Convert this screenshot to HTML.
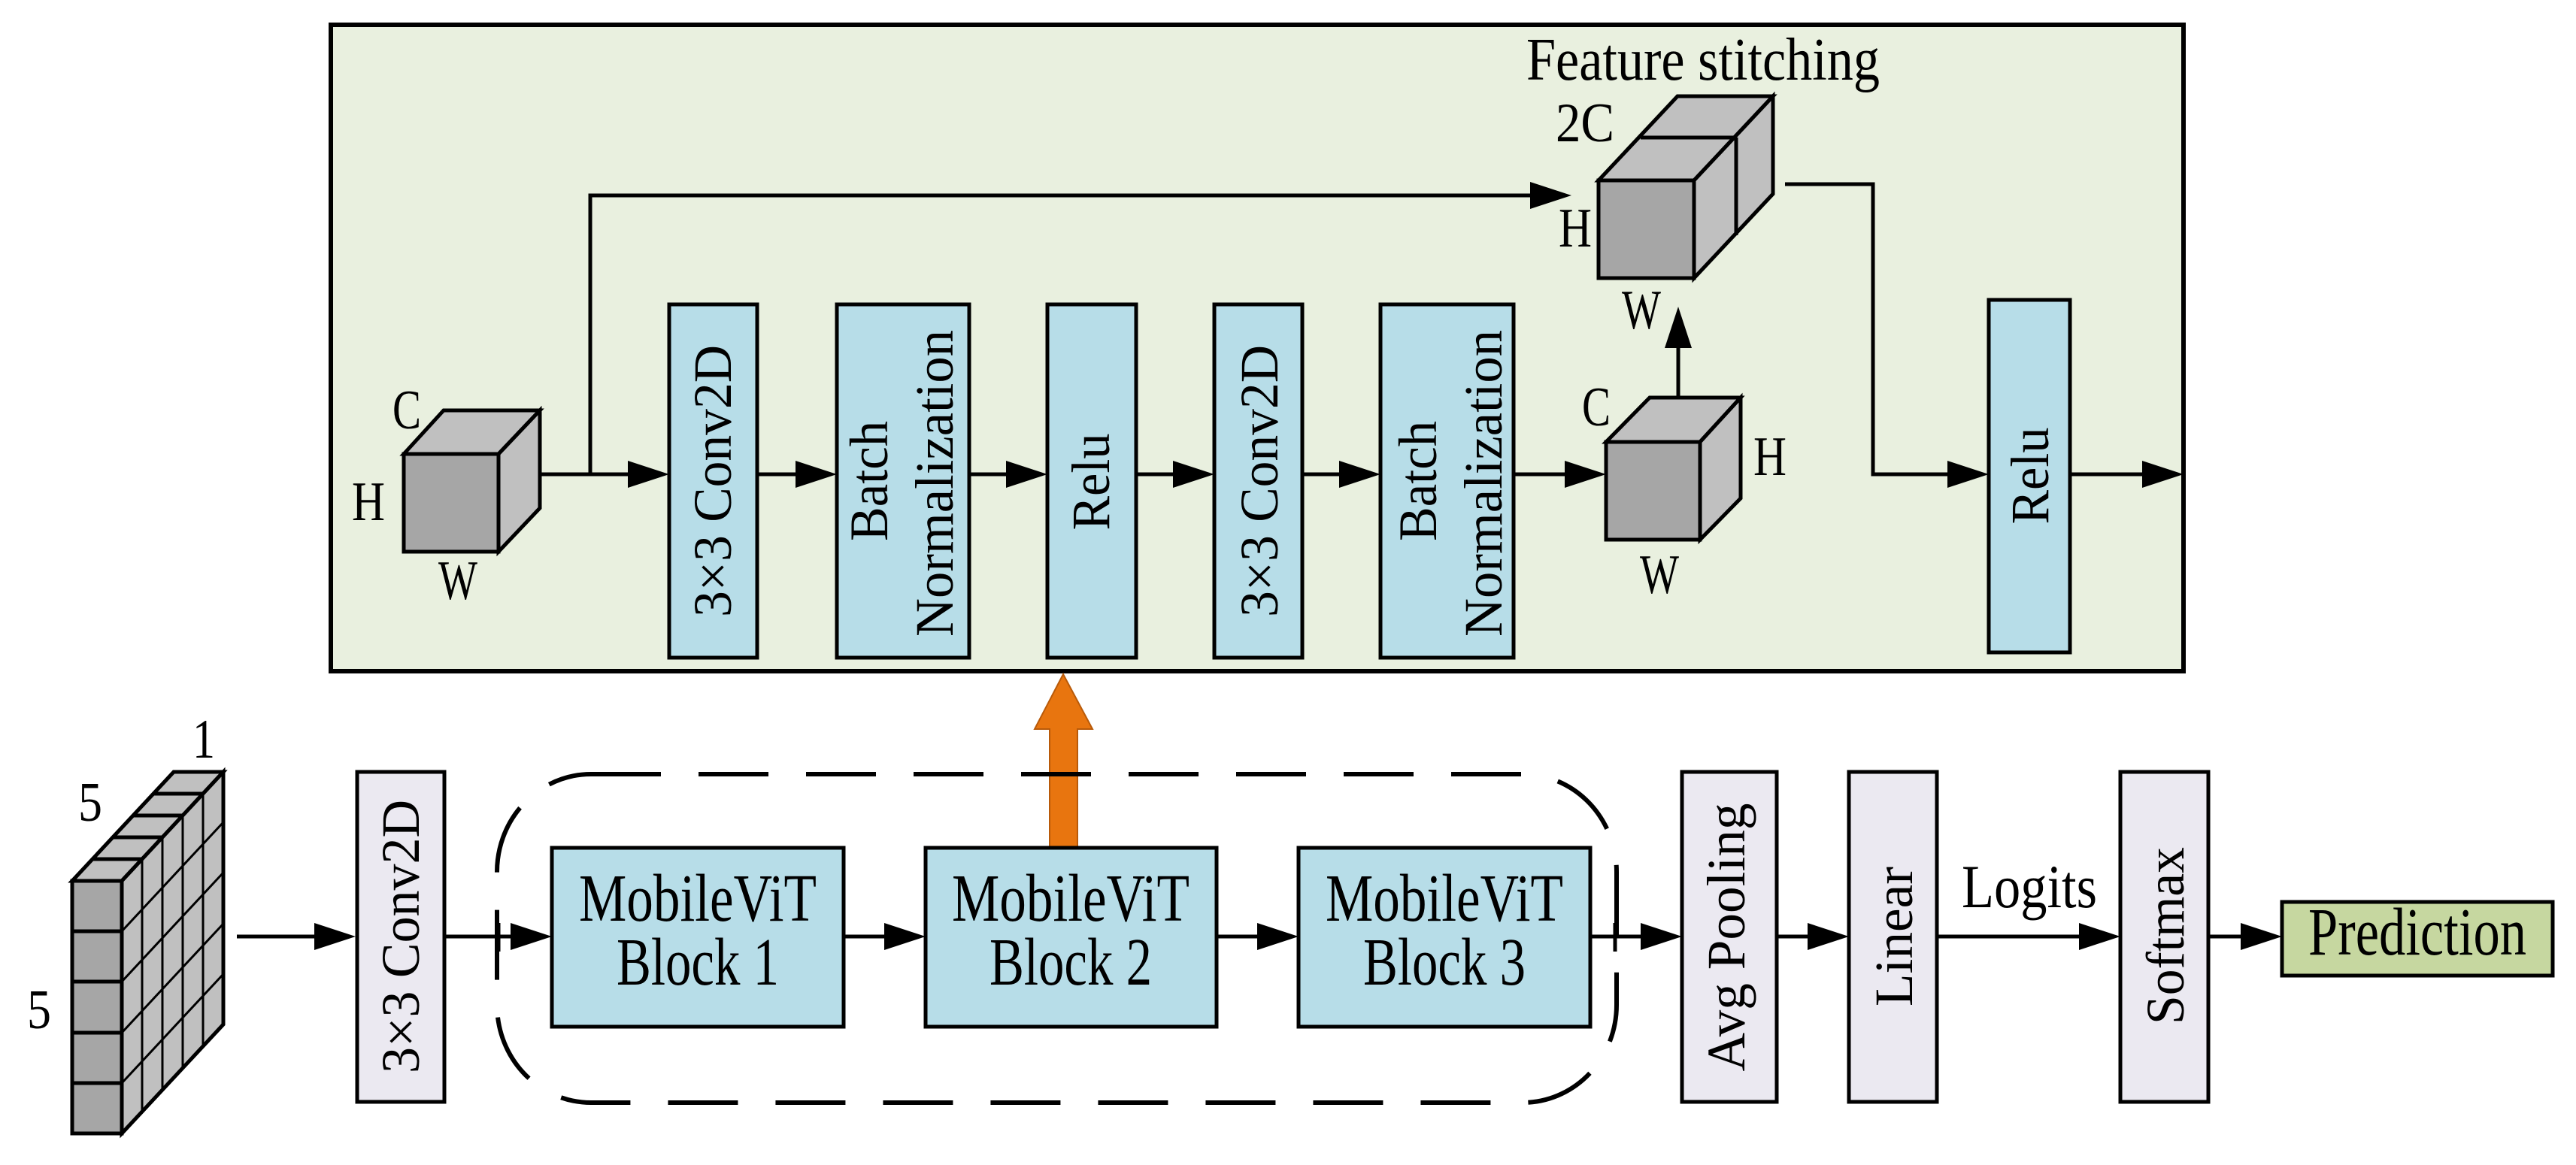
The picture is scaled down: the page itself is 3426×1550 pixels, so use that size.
<!DOCTYPE html>
<html><head><meta charset="utf-8"><style>
html,body{margin:0;padding:0;background:#fff;}
svg{display:block;}
text{font-family:"Liberation Serif",serif;fill:#000;}
</style></head><body>
<svg width="3426" height="1550" viewBox="0 0 3426 1550" xmlns="http://www.w3.org/2000/svg">
<rect x="440" y="33" width="2464" height="860" fill="#e9f0df" stroke="#000" stroke-width="6"/>
<text x="2265" y="106" font-size="80" text-anchor="middle" textLength="470" lengthAdjust="spacingAndGlyphs">Feature stitching</text>

<g stroke="#000" stroke-width="5">
<polygon points="537,604 590,546 718,546 663,604" fill="#c0c0c0"/>
<polygon points="663,604 718,546 718,676 663,734" fill="#c0c0c0"/>
<rect x="537" y="604" width="126" height="130" fill="#a6a6a6"/>
</g>
<g font-size="74" text-anchor="middle">
<text x="541" y="570" textLength="38" lengthAdjust="spacingAndGlyphs">C</text>
<text x="490" y="692" textLength="44" lengthAdjust="spacingAndGlyphs">H</text>
<text x="609" y="797" textLength="52" lengthAdjust="spacingAndGlyphs">W</text>
</g>

<g stroke="#000" stroke-width="5" fill="none">
<polyline points="718,631 840,631"/>
<polyline points="785,631 785,260 2040,260"/>
<line x1="1007" y1="631" x2="1060" y2="631"/>
<line x1="1289" y1="631" x2="1340" y2="631"/>
<line x1="1511" y1="631" x2="1562" y2="631"/>
<line x1="1732" y1="631" x2="1783" y2="631"/>
<line x1="2013" y1="631" x2="2083" y2="631"/>
<polyline points="2374,245 2491,245 2491,631 2592,631"/>
<line x1="2753" y1="631" x2="2852" y2="631"/>
<line x1="2232" y1="529" x2="2232" y2="460"/>
</g>
<g fill="#000">
<polygon points="835,613 890,631 835,649"/>
<polygon points="2035,242 2090,260 2035,278"/>
<polygon points="1058,613 1113,631 1058,649"/>
<polygon points="1338,613 1393,631 1338,649"/>
<polygon points="1560,613 1615,631 1560,649"/>
<polygon points="1781,613 1836,631 1781,649"/>
<polygon points="2081,613 2136,631 2081,649"/>
<polygon points="2590,613 2645,631 2590,649"/>
<polygon points="2849,613 2904,631 2849,649"/>
<polygon points="2214,463 2232,408 2250,463"/>
</g>

<g fill="#b7dde8" stroke="#000" stroke-width="5">
<rect x="890" y="405" width="117" height="470"/>
<rect x="1113" y="405" width="176" height="470"/>
<rect x="1393" y="405" width="118" height="470"/>
<rect x="1615" y="405" width="117" height="470"/>
<rect x="1836" y="405" width="177" height="470"/>
<rect x="2645" y="399" width="108" height="469"/>
</g>
<g font-size="72">
<text transform="translate(972,640) rotate(-90)" text-anchor="middle" textLength="362" lengthAdjust="spacingAndGlyphs">3×3 Conv2D</text>
<text transform="translate(1180,640) rotate(-90)" text-anchor="middle" textLength="160" lengthAdjust="spacingAndGlyphs">Batch</text>
<text transform="translate(1267,643) rotate(-90)" text-anchor="middle" textLength="408" lengthAdjust="spacingAndGlyphs">Normalization</text>
<text transform="translate(1475,641) rotate(-90)" text-anchor="middle" textLength="129" lengthAdjust="spacingAndGlyphs">Relu</text>
<text transform="translate(1699,640) rotate(-90)" text-anchor="middle" textLength="362" lengthAdjust="spacingAndGlyphs">3×3 Conv2D</text>
<text transform="translate(1910,640) rotate(-90)" text-anchor="middle" textLength="160" lengthAdjust="spacingAndGlyphs">Batch</text>
<text transform="translate(1997,643) rotate(-90)" text-anchor="middle" textLength="408" lengthAdjust="spacingAndGlyphs">Normalization</text>
<text transform="translate(2724,633) rotate(-90)" text-anchor="middle" textLength="129" lengthAdjust="spacingAndGlyphs">Relu</text>
</g>

<g stroke="#000" stroke-width="5">
<polygon points="2136,588 2194,529 2315,529 2261,588" fill="#c0c0c0"/>
<polygon points="2261,588 2315,529 2315,663 2261,718" fill="#c0c0c0"/>
<rect x="2136" y="588" width="125" height="130" fill="#a6a6a6"/>
</g>
<g font-size="74" text-anchor="middle">
<text x="2123" y="566" textLength="38" lengthAdjust="spacingAndGlyphs">C</text>
<text x="2354" y="632" textLength="44" lengthAdjust="spacingAndGlyphs">H</text>
<text x="2207" y="789" textLength="52" lengthAdjust="spacingAndGlyphs">W</text>
</g>

<g stroke="#000" stroke-width="5">
<polygon points="2126,240 2231,128 2358,128 2253,240" fill="#c0c0c0"/>
<polygon points="2253,240 2358,128 2358,258 2253,370" fill="#c0c0c0"/>
<line x1="2182" y1="183" x2="2309" y2="183"/>
<line x1="2309" y1="183" x2="2309" y2="313"/>
<rect x="2126" y="240" width="127" height="130" fill="#a6a6a6"/>
</g>
<g font-size="74" text-anchor="middle">
<text x="2108" y="188" textLength="78" lengthAdjust="spacingAndGlyphs">2C</text>
<text x="2095" y="328" textLength="44" lengthAdjust="spacingAndGlyphs">H</text>
<text x="2183" y="437" textLength="52" lengthAdjust="spacingAndGlyphs">W</text>
</g>

<polygon points="1396,1127 1396,970 1376,970 1414,897 1453,970 1433,970 1433,1127" fill="#e8750f" stroke="#b85a0a" stroke-width="2"/>

<g stroke="#000" stroke-width="5" fill="#c0c0c0">
<polygon points="96,1172 231,1027 297,1027 162,1172"/>
<polygon points="162,1172 297,1027 297,1363 162,1508"/>
<rect x="96" y="1172" width="66" height="336" fill="#a6a6a6"/>
</g>
<g stroke="#000" stroke-width="5">
<line x1="96" y1="1239" x2="162" y2="1239"/>
<line x1="96" y1="1306" x2="162" y2="1306"/>
<line x1="96" y1="1374" x2="162" y2="1374"/>
<line x1="96" y1="1441" x2="162" y2="1441"/>
<line x1="123" y1="1143" x2="189" y2="1143"/>
<line x1="150" y1="1114" x2="216" y2="1114"/>
<line x1="177" y1="1085" x2="243" y2="1085"/>
<line x1="204" y1="1056" x2="270" y2="1056"/>
</g>
<g stroke="#000" stroke-width="3">
<line x1="189" y1="1143" x2="189" y2="1479"/>
<line x1="216" y1="1114" x2="216" y2="1450"/>
<line x1="243" y1="1085" x2="243" y2="1421"/>
<line x1="270" y1="1056" x2="270" y2="1392"/>
<line x1="162" y1="1239" x2="297" y2="1094"/>
<line x1="162" y1="1306" x2="297" y2="1161"/>
<line x1="162" y1="1374" x2="297" y2="1229"/>
<line x1="162" y1="1441" x2="297" y2="1296"/>
</g>
<g font-size="74" text-anchor="middle">
<text x="271" y="1008" textLength="30" lengthAdjust="spacingAndGlyphs">1</text>
<text x="120" y="1092" textLength="32" lengthAdjust="spacingAndGlyphs">5</text>
<text x="52" y="1368" textLength="32" lengthAdjust="spacingAndGlyphs">5</text>
</g>

<rect x="661" y="1030" width="1489" height="437" rx="125" ry="130" fill="none" stroke="#000" stroke-width="6" stroke-dasharray="93 50"/>

<g stroke="#000" stroke-width="5">
<line x1="315" y1="1246" x2="420" y2="1246"/>
<line x1="591" y1="1246" x2="680" y2="1246"/>
<line x1="663" y1="1228" x2="663" y2="1266"/>
<line x1="1122" y1="1246" x2="1178" y2="1246"/>
<line x1="1618" y1="1246" x2="1674" y2="1246"/>
<line x1="2115" y1="1246" x2="2184" y2="1246"/>
<line x1="2148" y1="1228" x2="2148" y2="1266"/>
<line x1="2363" y1="1246" x2="2406" y2="1246"/>
<line x1="2576" y1="1246" x2="2767" y2="1246"/>
<line x1="2937" y1="1246" x2="2982" y2="1246"/>
</g>
<g fill="#000">
<polygon points="418,1228 473,1246 418,1264"/>
<polygon points="679,1228 734,1246 679,1264"/>
<polygon points="1176,1228 1231,1246 1176,1264"/>
<polygon points="1672,1228 1727,1246 1672,1264"/>
<polygon points="2182,1228 2237,1246 2182,1264"/>
<polygon points="2404,1228 2459,1246 2404,1264"/>
<polygon points="2765,1228 2820,1246 2765,1264"/>
<polygon points="2980,1228 3035,1246 2980,1264"/>
</g>

<g fill="#ebe9f1" stroke="#000" stroke-width="5">
<rect x="475" y="1027" width="116" height="439"/>
<rect x="2237" y="1027" width="126" height="439"/>
<rect x="2459" y="1027" width="117" height="439"/>
<rect x="2820" y="1027" width="117" height="439"/>
</g>
<g fill="#b7dde8" stroke="#000" stroke-width="5">
<rect x="734" y="1128" width="388" height="238"/>
<rect x="1231" y="1128" width="387" height="238"/>
<rect x="1727" y="1128" width="388" height="238"/>
</g>
<rect x="3035" y="1200" width="360" height="98" fill="#c6d7a0" stroke="#000" stroke-width="5"/>

<g font-size="72">
<text transform="translate(557,1246) rotate(-90)" text-anchor="middle" textLength="364" lengthAdjust="spacingAndGlyphs">3×3 Conv2D</text>
<text transform="translate(2320,1247) rotate(-90)" text-anchor="middle" textLength="357" lengthAdjust="spacingAndGlyphs">Avg Pooling</text>
<text transform="translate(2543,1246) rotate(-90)" text-anchor="middle" textLength="186" lengthAdjust="spacingAndGlyphs">Linear</text>
<text transform="translate(2904,1245) rotate(-90)" text-anchor="middle" textLength="236" lengthAdjust="spacingAndGlyphs">Softmax</text>
</g>
<g font-size="90" text-anchor="middle">
<text x="928" y="1225" textLength="316" lengthAdjust="spacingAndGlyphs">MobileViT</text>
<text x="928" y="1310" textLength="216" lengthAdjust="spacingAndGlyphs">Block 1</text>
<text x="1424" y="1225" textLength="316" lengthAdjust="spacingAndGlyphs">MobileViT</text>
<text x="1424" y="1310" textLength="216" lengthAdjust="spacingAndGlyphs">Block 2</text>
<text x="1921" y="1225" textLength="316" lengthAdjust="spacingAndGlyphs">MobileViT</text>
<text x="1921" y="1310" textLength="216" lengthAdjust="spacingAndGlyphs">Block 3</text>
<text x="3215" y="1270" textLength="290" lengthAdjust="spacingAndGlyphs">Prediction</text>
<text x="2699" y="1207" font-size="82" textLength="180" lengthAdjust="spacingAndGlyphs">Logits</text>
</g>
</svg>
</body></html>
